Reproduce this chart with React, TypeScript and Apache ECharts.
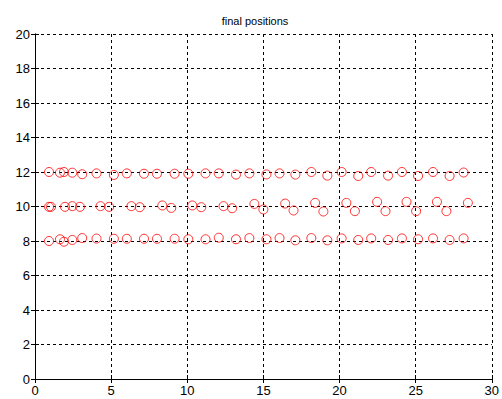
import React, { useEffect, useRef } from "react";
import * as echarts from "echarts";

const xTicks = [0, 5, 10, 15, 20, 25, 30];
const yTicks = [0, 2, 4, 6, 8, 10, 12, 14, 16, 18, 20];

const topX = [0.92, 1.64, 1.9, 2.45, 3.1, 4.04, 5.18, 6.03, 7.16, 8.01, 9.17, 10.07, 11.2, 12.07, 13.2, 14.08, 15.2, 16.06, 17.1, 18.15, 19.2, 20.14, 21.23, 22.08, 23.19, 24.1, 25.16, 26.14, 27.23, 28.15];
const topY = [12.0, 11.96, 12.0, 11.96, 11.87, 11.92, 11.83, 11.92, 11.9, 11.9, 11.9, 11.9, 11.92, 11.92, 11.85, 11.92, 11.86, 11.92, 11.85, 12.0, 11.79, 12.0, 11.77, 12.0, 11.79, 12.0, 11.77, 12.0, 11.77, 11.97];

const midX = [0.92, 1.05, 1.97, 2.45, 2.95, 4.3, 4.87, 6.33, 6.88, 8.36, 8.95, 10.33, 10.92, 12.38, 12.95, 14.41, 15.0, 16.43, 16.98, 18.4, 18.94, 20.45, 21.01, 22.47, 23.02, 24.4, 25.03, 26.4, 27.02, 28.43];
const midY = [9.98, 9.98, 9.98, 10.02, 9.98, 10.02, 9.98, 10.02, 9.96, 10.06, 9.92, 10.06, 9.96, 10.02, 9.9, 10.15, 9.83, 10.17, 9.77, 10.21, 9.71, 10.21, 9.73, 10.27, 9.73, 10.27, 9.73, 10.27, 9.73, 10.21];

const botX = [0.92, 1.64, 1.9, 2.45, 3.1, 4.04, 5.18, 6.03, 7.16, 8.01, 9.17, 10.07, 11.2, 12.07, 13.2, 14.08, 15.2, 16.06, 17.1, 18.15, 19.2, 20.14, 21.23, 22.08, 23.19, 24.1, 25.16, 26.14, 27.23, 28.15];
const botY = [8.0, 8.1, 7.96, 8.06, 8.17, 8.14, 8.13, 8.13, 8.13, 8.13, 8.13, 8.1, 8.1, 8.19, 8.1, 8.17, 8.1, 8.17, 8.04, 8.17, 8.04, 8.15, 8.06, 8.15, 8.06, 8.15, 8.1, 8.15, 8.06, 8.15];

const zip = (xs: number[], ys: number[]) => xs.map((x, i) => [x, ys[i]]);

export default function App() {
  const ref = useRef<HTMLDivElement>(null);
  useEffect(() => {
    if (!ref.current) return;
    const chart = echarts.init(ref.current, null, { renderer: "svg" });
    const labelStyle = { color: "#000", fontFamily: "Liberation Sans, Arial, sans-serif", fontSize: 13 };
    const gridLine = { show: true, lineStyle: { color: "#000", type: [3, 3] as any, width: 1 } };
    const axisLine = { show: true, lineStyle: { color: "#000", width: 1 } };
    const tick = { show: true, inside: true, length: 4, lineStyle: { color: "#000" } };
    const marker = {
      type: "scatter" as const,
      symbol: "circle",
      symbolSize: 9,
      itemStyle: { color: "transparent", borderColor: "#ff0000", borderWidth: 1 },
      silent: true,
    };
    chart.setOption({
      animation: false,
      backgroundColor: "#fff",
      title: {
        text: "final positions",
        left: 250,
        textAlign: "center",
        top: 10,
        textStyle: { color: "#000", fontFamily: "Liberation Sans, Arial, sans-serif", fontSize: 11, fontWeight: "normal" },
      },
      grid: { left: 35, right: 9, top: 34, bottom: 20, containLabel: false },
      xAxis: [
        {
          type: "value", min: xTicks[0], max: xTicks[xTicks.length - 1], interval: 5,
          axisLine, axisTick: tick, splitLine: gridLine,
          axisLabel: { ...labelStyle, margin: 5, formatter: (v: number) => (xTicks.includes(v) ? String(v) : "") },
        },
        {
          type: "value", position: "top", min: 0, max: 30, interval: 5,
          axisLine, axisTick: tick, splitLine: { show: false }, axisLabel: { show: false },
        },
      ],
      yAxis: [
        {
          type: "value", min: yTicks[0], max: yTicks[yTicks.length - 1], interval: 2,
          axisLine, axisTick: tick, splitLine: gridLine,
          axisLabel: { ...labelStyle, margin: 5, formatter: (v: number) => (yTicks.includes(v) ? String(v) : "") },
        },
        {
          type: "value", position: "right", min: 0, max: 20, interval: 2,
          axisLine, axisTick: tick, splitLine: { show: false }, axisLabel: { show: false },
        },
      ],
      series: [
        { ...marker, data: zip(topX, topY) },
        { ...marker, data: zip(midX, midY) },
        { ...marker, data: zip(botX, botY) },
      ],
    });
    return () => chart.dispose();
  }, []);
  return <div ref={ref} style={{ position: "fixed", left: 0, top: 0, width: 502, height: 399 }} />;
}
